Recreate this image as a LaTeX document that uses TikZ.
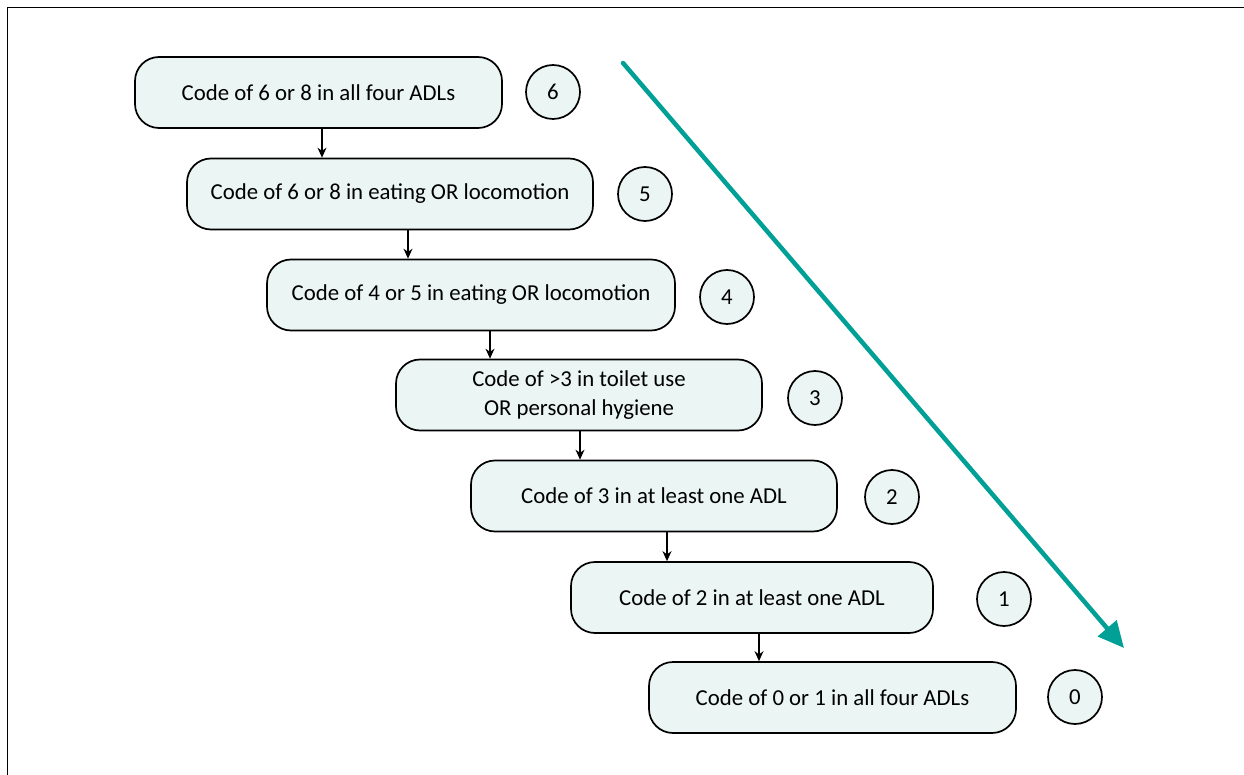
\documentclass[tikz,border=0pt]{standalone}
\usepackage{fontspec}
\setmainfont{Carlito}
\usetikzlibrary{arrows.meta,calc}
\definecolor{boxfill}{RGB}{235,245,243}
\definecolor{teal}{RGB}{0,160,150}
\begin{document}
\begin{tikzpicture}[x=1pt,y=-1pt,
  stepbox/.style={draw=black,line width=1.7pt,fill=boxfill,rounded corners=24pt,
    minimum height=71pt,align=center,inner sep=0pt,font=\fontsize{22.8}{29.5}\selectfont},
  levelmark/.style={draw=black,line width=1.7pt,fill=boxfill,circle,minimum size=54pt,
    inner sep=0pt,font=\fontsize{22.8}{27}\selectfont},
  flow/.style={-{Stealth[length=10pt,width=9pt]},line width=1.4pt}]
\useasboundingbox (0,0) rectangle (1244,775);
% frame edges
\draw[line width=1pt] (7,775) -- (7,8) -- (1244,8);

% steps
\node[stepbox,minimum width=367pt] (b6) at (318.5,92.5) {Code of 6 or 8 in all four ADLs};
\node[stepbox,minimum width=406pt] (b5) at (390,194) {Code of 6 or 8 in eating OR locomotion};
\node[stepbox,minimum width=408pt] (b4) at (471,295) {Code of 4 or 5 in eating OR locomotion};
\node[stepbox,minimum width=366pt] (b3) at (579,395) {Code of >3 in toilet use\\OR personal hygiene};
\node[stepbox,minimum width=366pt] (b2) at (654,496) {Code of 3 in at least one ADL};
\node[stepbox,minimum width=362pt] (b1) at (752,597.5) {Code of 2 in at least one ADL};
\node[stepbox,minimum width=367pt] (b0) at (832.5,697.5) {Code of 0 or 1 in all four ADLs};

% level numbers
\node[levelmark] (c6) at (553,92) {6};
\node[levelmark] (c5) at (645,194) {5};
\node[levelmark] (c4) at (727,297) {4};
\node[levelmark] (c3) at (815,398) {3};
\node[levelmark] (c2) at (892,497) {2};
\node[levelmark] (c1) at (1004,599) {1};
\node[levelmark] (c0) at (1075,697) {0};

% connectors between steps
\draw[flow] ($(b6.south)+(3.5,0)$) -- ($(b5.north)+(-68,0)$);
\draw[flow] ($(b5.south)+(18,0)$) -- ($(b4.north)+(-63,0)$);
\draw[flow] ($(b4.south)+(19,0)$) -- ($(b3.north)+(-89,0)$);
\draw[flow] ($(b3.south)+(1,0)$) -- ($(b2.north)+(-74,0)$);
\draw[flow] ($(b2.south)+(13,0)$) -- ($(b1.north)+(-85,0)$);
\draw[flow] ($(b1.south)+(7,0)$) -- ($(b0.north)+(-73.5,0)$);

% severity trend
\coordinate (t0) at (623,63);
\coordinate (t1) at (1124,648);
\draw[teal,line width=4.5pt,line cap=round,-{Triangle[length=26pt,width=24pt]}] (t0) -- (t1);
\end{tikzpicture}
\end{document}
